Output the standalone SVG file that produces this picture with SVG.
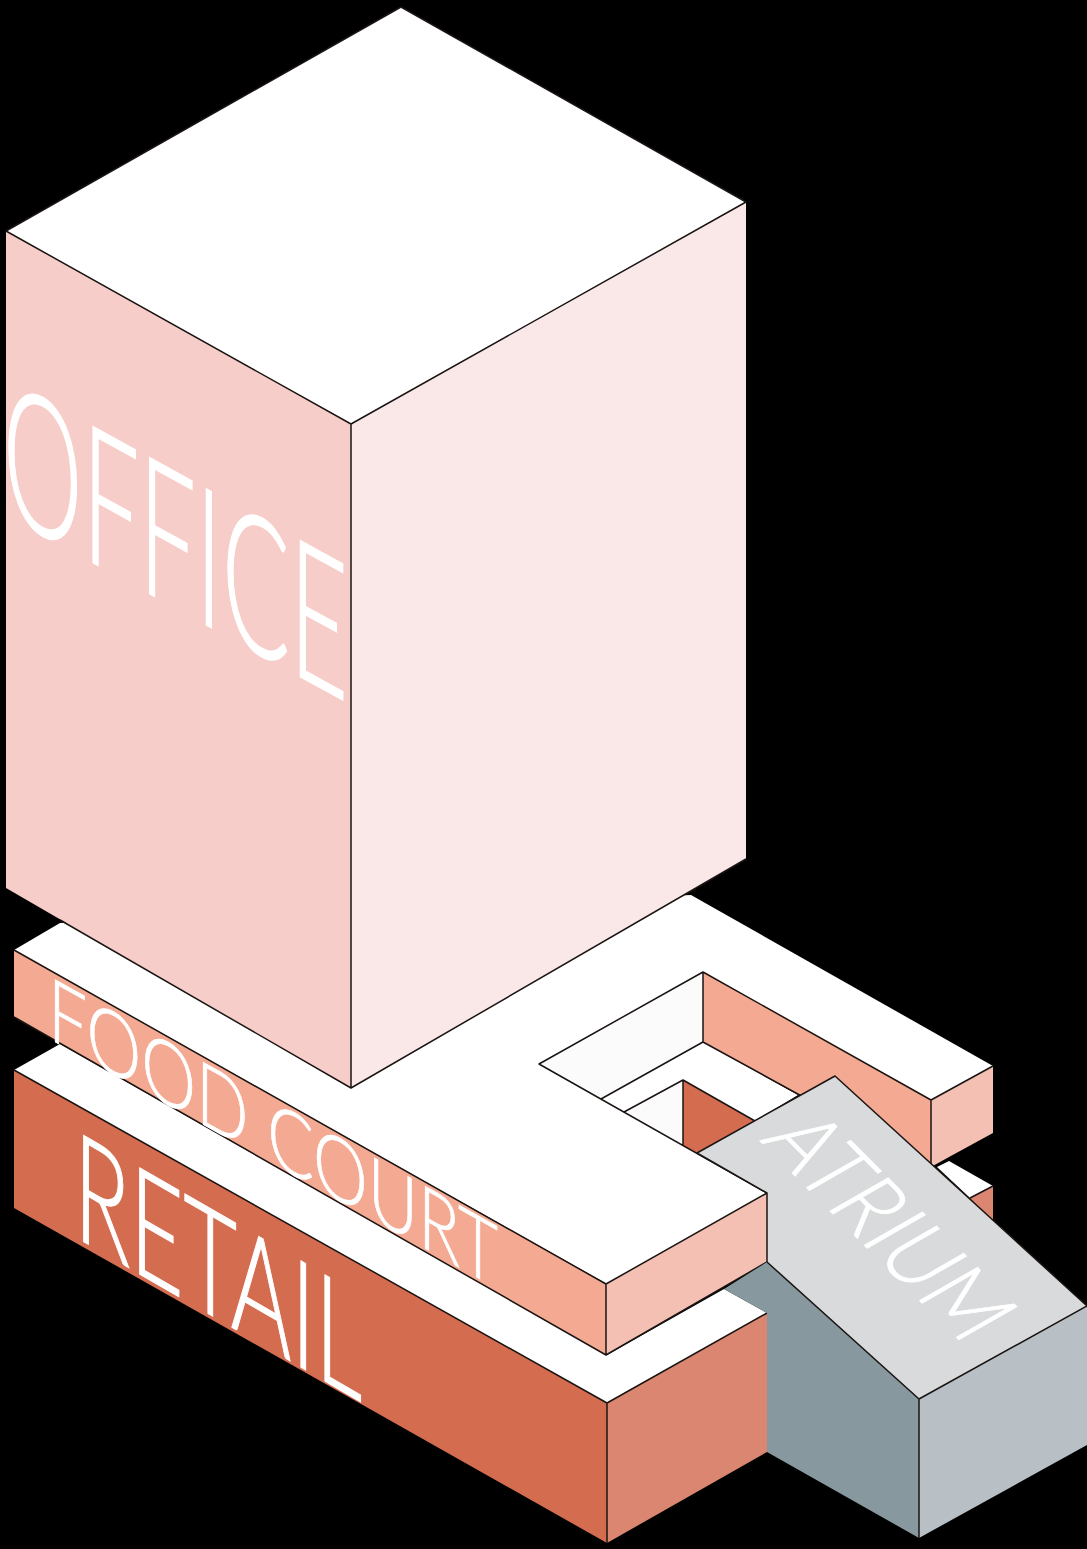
<svg xmlns="http://www.w3.org/2000/svg" width="1087" height="1549" viewBox="0 0 1087 1549">
<style>
.e{stroke:#1a1412;stroke-width:1.5;stroke-linejoin:round;fill:none}
.w{fill:#fff}.h{fill:#fbfbfc}
.t{fill:#fff;stroke:#fff;stroke-width:1.4;font-family:"Lato","Liberation Sans",sans-serif;font-weight:300}
</style>
<rect width="1087" height="1549" fill="#000"/>
<g id="retail">
<polygon class="w" points="14,1070 60,1044 607,1355 724,1289 767,1313 607,1403"/>
<polygon fill="#d46c50" points="14,1070 607,1403 607,1543 14,1208"/>
<polygon fill="#db8670" points="607,1403 767,1313 767,1452 607,1543"/>
<polygon class="w" points="949,1161 993,1186 970,1198 937,1167"/>
<polygon fill="#db8670" points="970,1198 993,1186 993,1225"/>
<path class="e" d="M14 1070L607 1403L767 1313M607 1403V1543M970 1198L993 1186"/>
<text class="t" transform="matrix(1 .578 0 1 74 1236)" font-size="150" textLength="288" lengthAdjust="spacingAndGlyphs">RETAIL</text>
</g>
<g id="food-court">
<polygon class="w" points="14,950 60,923 691,895 993,1066 931,1100 703,972 539,1064 767,1193 607,1284"/>
<polygon fill="#f4a992" points="14,950 606,1284 606,1355 14,1017"/>
<polygon fill="#f4c0b3" points="606,1284 767,1193 767,1262 606,1355"/>
<polygon fill="#f4a992" points="703,972 931,1100 931,1167 703,1042"/>
<polygon fill="#f4c0b3" points="931,1100 993,1066 993,1133 949,1157 931,1167"/>
<polygon class="h" points="703,972 703,1042 601,1099 539,1064"/>
<polygon class="w" points="703,1042 601,1099 624,1112 683,1080 755,1121 798,1095"/>
<polygon class="h" points="683,1080 624,1112 683,1146"/>
<polygon fill="#d46c50" points="683,1080 755,1121 697,1153 683,1146"/>
<path class="e" d="M14 950L606 1284L767 1193L539 1064L703 972L931 1100L993 1066M703 972V1042L601 1099M703 1042L931 1167M931 1100V1167M606 1284V1355M14 1017L606 1355L767 1262M624 1112L683 1080V1146M683 1080L755 1121"/>
<text class="t" style="stroke-width:.8" transform="matrix(1 .558 0 1 48 1038)" font-size="88" textLength="450" lengthAdjust="spacingAndGlyphs">FOOD COURT</text>
</g>
<g id="atrium">
<polygon fill="#87999f" points="724,1289 767,1262 919,1399 919,1538 767,1452 767,1313"/>
<polygon fill="#b8c0c6" points="919,1399 1087,1306 1087,1445 919,1538"/>
<polygon fill="#d8dadc" points="697,1153 835,1076 1087,1306 919,1399 767,1262 767,1193"/>
<path class="e" d="M697 1153L835 1076L1087 1306L919 1399L767 1262M919 1399L1087 1306M919 1399V1538M697 1153L767 1193V1262"/>
<text class="t" style="stroke-width:1" transform="matrix(.7 .7 -.82 .47 759 1140)" font-size="100" textLength="294" lengthAdjust="spacingAndGlyphs">ATRIUM</text>
</g>
<g id="office">
<polygon class="w" points="401,7 746,202 351,424 6,231"/>
<polygon fill="#f6cdc9" points="6,231 351,424 351,1088 6,888"/>
<polygon fill="#f9e8e7" points="351,424 746,202 746,859 351,1088"/>
<path class="e" d="M401 7L746 202L351 424L6 231ZM351 424V1088M60 920L351 1088L746 859"/>
<text class="t" style="stroke-width:1.8" transform="matrix(1 .55 0 1 3 513)" font-size="192" textLength="345" lengthAdjust="spacingAndGlyphs">OFFICE</text>
</g>
</svg>
